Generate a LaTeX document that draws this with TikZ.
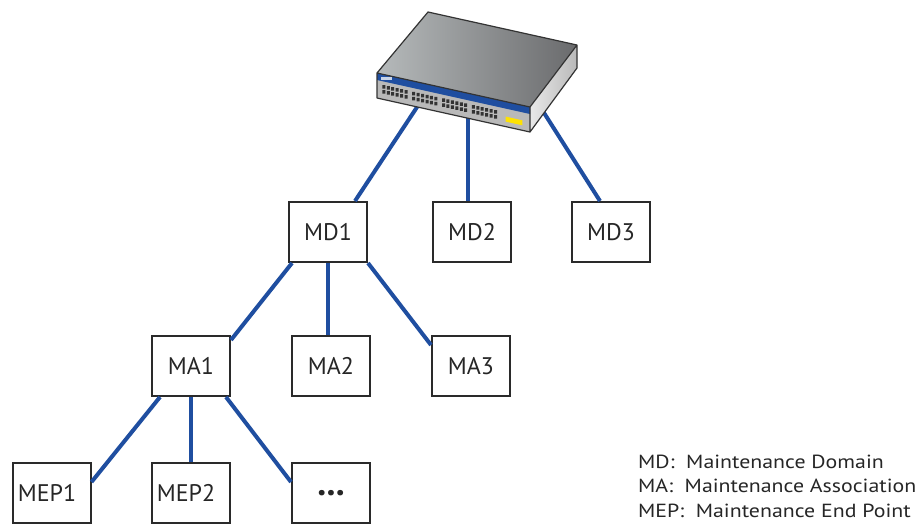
\documentclass[tikz,border=0pt]{standalone}
\usepackage{fontspec}
\setmainfont{PT Sans}
\newfontfamily\keyfont[FakeStretch=1.15]{PT Sans}
\usetikzlibrary{calc}
\definecolor{linkblue}{HTML}{1F4EA0}
\definecolor{boxedge}{HTML}{2A2A2A}
\definecolor{swlight}{HTML}{B6BABB}
\definecolor{swdark}{HTML}{6A6B6D}
\tikzset{
    box/.style =    {rectangle,
                    fill=white,
                    draw=boxedge,
                    text=black!85,
                    line width=2pt,
                    inner sep=0pt,
                    minimum width=78pt,
                    minimum height=60pt,
                    font=\fontsize{24}{28}\selectfont},
    mep/.style =    {box,
                    execute at end node=\hspace*{9pt}},
    link/.style =   {draw=linkblue,
                    line width=4pt},
    legend/.style = {align=left,
                    anchor=north west,
                    inner sep=0pt,
                    text=black!85,
                    font=\keyfont\fontsize{19}{24.3}\selectfont},
    swedge/.style = {draw=black!80,
                    line width=1.2pt,
                    line join=round}}

\begin{document}
\begin{tikzpicture}[x=1pt,y=-1pt]
                \useasboundingbox (0,0) rectangle (919,523);

                \node[box]  (md1)                                           at (328,232)   {MD1};
                \node[box]  (md2) [right of=md1,node distance=144pt]                       {MD2};
                \node[box]  (md3) [right of=md2,node distance=139pt]                       {MD3};
                \node[box]  (ma2)                                           at (331,366)   {MA2};
                \node[box]  (ma1) [left of=ma2,node distance=140pt]                        {MA1};
                \node[box]  (ma3) [right of=ma2,node distance=140pt]                       {MA3};
                \node[box]  (mepn)                                          at (331,493)   {\fontsize{36}{36}\selectfont\textbf{...}};
                \node[mep]  (mep2) [left of=mepn,node distance=140.5pt]                    {MEP2};
                \node[mep]  (mep1) [left of=mep2,node distance=139pt]                      {MEP1};

                \node[legend] (key) at (638,455) {MD:\ \ Maintenance Domain\\
                                                  MA:\ \ Maintenance Association\\
                                                  MEP:\ \ Maintenance End Point};

                % ports hidden under the switch
                \coordinate (sw1) at (425,95);
                \coordinate (sw2) at (468,110);
                \coordinate (sw3) at (539,105);

                \path [link]    (sw1) edge  ([xshift=27pt]md1.north)
                                (sw2) edge  ([xshift=-4pt]md2.north)
                                (sw3) edge  ([xshift=-11pt]md3.north)
                                ([xshift=4pt]md1.south west) edge ([yshift=-5pt]ma1.north east)
                                (md1.south) edge (md1.south |- ma2.north)
                                (md1.south east) edge ([yshift=-10pt]ma3.north west)
                                ([xshift=9pt]ma1.south west) edge ([yshift=-20pt]mep1.north east)
                                (ma1.south -| mep2.north) edge (mep2.north)
                                ([xshift=-5pt]ma1.south east) edge ([yshift=-20pt]mepn.north west);

                % the switch
                \coordinate (tl) at (377,73);
                \coordinate (tb) at (428,12);
                \coordinate (tr) at (577,45);
                \coordinate (tf) at (530,107);
                \coordinate (bl) at (377,98);
                \coordinate (bf) at (530,132);
                \coordinate (br) at (577,68);

                \shade [left color=swlight,right color=swdark]  (tl) -- (tb) -- (tr) -- (tf) -- cycle;
                \shade [left color=gray!18,right color=gray!55] (tf) -- (tr) -- (br) -- (bf) -- cycle;
                \fill [gray!55]                                 (tl) -- (tf) -- (bf) -- (bl) -- cycle;
                \fill [linkblue]    (tl) -- (tf) -- ($(tf)+(0,7)$) -- ($(tl)+(0,7)$) -- cycle;
                \fill [linkblue!25] (381,77) rectangle (392,79.5);
                \foreach \g in {0,...,3}
                    \foreach \c in {0,...,5} {
                        \pgfmathsetmacro\u{0.035+0.195*\g+0.029*\c}
                        \fill [black!80] ($(tl)!\u!(tf)+(0,11)$) rectangle +(3,3.5)
                                         ($(tl)!\u!(tf)+(0,16)$) rectangle +(3,3.5);
                    }
                \fill [yellow!85!orange] ($(tl)!0.84!(tf)+(0,15)$) -- ($(tl)!0.95!(tf)+(0,15)$)
                                         -- ++(0,5) -- ($(tl)!0.84!(tf)+(0,20)$) -- cycle;
                \draw [swedge] (tl) -- (tb) -- (tr) -- (br) -- (bf) -- (bl) -- cycle
                               (tl) -- (tf) -- (tr)
                               (tf) -- (bf);
        \end{tikzpicture}
\end{document}
